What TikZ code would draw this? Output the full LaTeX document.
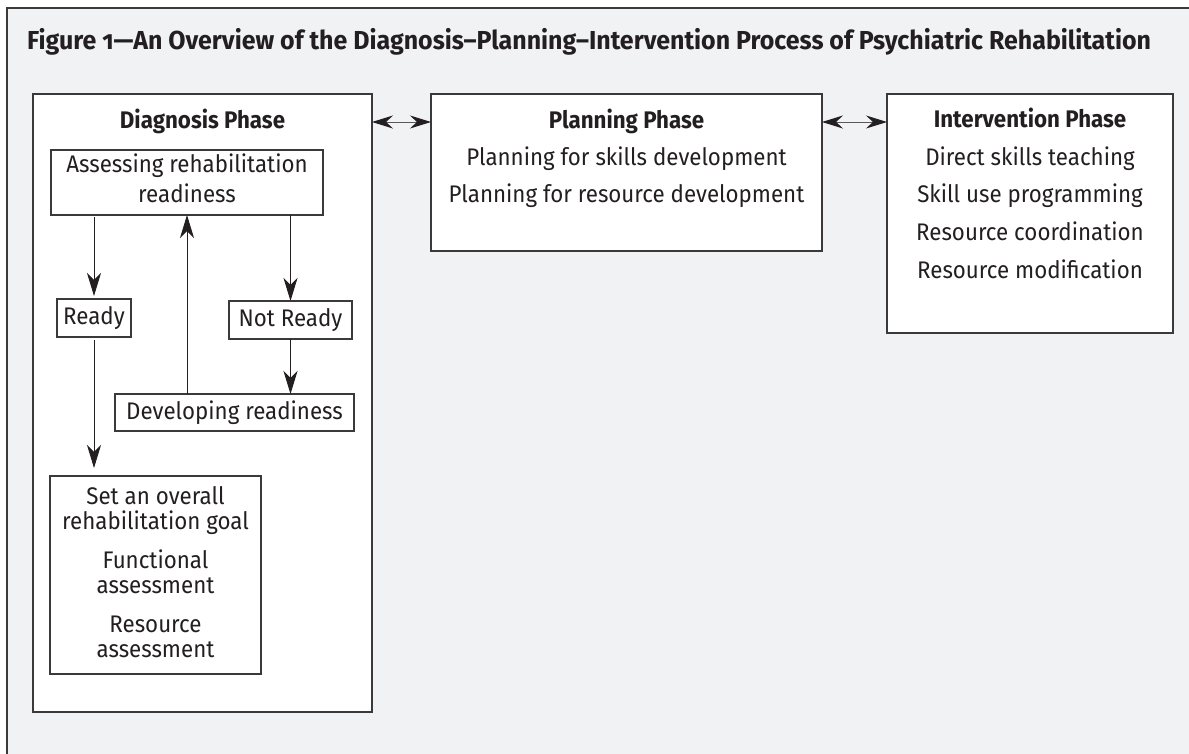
\documentclass[tikz,border=0pt]{standalone}
\usepackage{fontspec}
\setmainfont{Fira Sans}[Numbers=OldStyle, FakeStretch=0.93]
\newfontfamily\titlefont{Fira Sans}[Numbers=OldStyle, FakeStretch=0.96]
\usetikzlibrary{arrows.meta}
\definecolor{bg}{HTML}{F1F2F4}
\definecolor{ink}{HTML}{231F20}
\definecolor{edge}{HTML}{3A3A3A}
\begin{document}
\begin{tikzpicture}[x=1pt,y=-1pt,
  box/.style={draw=edge, fill=white, line width=1.2pt, inner sep=0pt, outer sep=0pt},
  lbl/.style={inner sep=0pt, anchor=base, text=ink, font=\fontsize{24}{28}\selectfont},
  head/.style={lbl, font=\fontsize{24}{28}\selectfont\bfseries},
  arr/.style={draw=ink, line width=0.9pt, -{Stealth[length=23pt,width=14pt,inset=7pt]}},
  dbl/.style={draw=ink!75, line width=0.9pt, {Stealth[length=21pt,width=13pt,inset=7pt,color=ink,fill=ink]}-{Stealth[length=21pt,width=13pt,inset=7pt,color=ink,fill=ink]}}
]
\useasboundingbox (0,0) rectangle (1189,754);
\fill[white] (0,0) rectangle (1189,754);
\fill[bg] (7,8) rectangle (1189,754);
\draw[edge, line width=1.5pt] (7,754) -- (7,8) -- (1189,8);

% title
\node[lbl, anchor=base west, font=\titlefont\fontsize{26}{30}\selectfont\bfseries] (title) at (27,50)
  {Figure 1—An Overview of the Diagnosis–Planning–Intervention Process of Psychiatric Rehabilitation};

% phase boxes
\node[box, minimum width=339pt, minimum height=618pt] (diag) at (202.5,403) {};
\node[box, minimum width=391pt, minimum height=157pt] (plan) at (626.5,172.5) {};
\node[box, minimum width=286pt, minimum height=239pt] (inter) at (1030,213.5) {};

% diagnosis content
\node[head] (dh) at (202.5,129) {Diagnosis Phase};
\node[box, minimum width=272pt, minimum height=65pt] (assess) at (187,182.5) {};
\node[lbl] (as1) at (187,173) {Assessing rehabilitation};
\node[lbl] (as2) at (187,203) {readiness};
\node[box, lbl, anchor=center, minimum width=74pt, minimum height=38pt] (ready) at (94,318) {Ready};
\node[box, lbl, anchor=center, minimum width=123pt, minimum height=38pt] (notready) at (290.5,320) {Not Ready};
\node[box, lbl, anchor=center, minimum width=239pt, minimum height=37pt] (dev) at (234.5,412.5) {Developing readiness};
\node[box, minimum width=211pt, minimum height=198pt] (goal) at (155.5,575) {};
\node[lbl] (g1) at (155.5,504) {Set an overall};
\node[lbl] (g2) at (155.5,529) {rehabilitation goal};
\node[lbl] (g3) at (155.5,568) {Functional};
\node[lbl] (g4) at (155.5,593) {assessment};
\node[lbl] (g5) at (155.5,632) {Resource};
\node[lbl] (g6) at (155.5,657) {assessment};

% planning content
\node[head] (ph) at (626.5,129) {Planning Phase};
\node[lbl] (p1) at (626.5,166) {Planning for skills development};
\node[lbl] (p2) at (626.5,203) {Planning for resource development};

% intervention content
\node[head] (ih) at (1030,128) {Intervention Phase};
\node[lbl] (i1) at (1030,166) {Direct skills teaching};
\node[lbl] (i2) at (1030,203) {Skill use programming};
\node[lbl] (i3) at (1030,241) {Resource coordination};
\node[lbl] (i4) at (1030,278) {Resource modification};

% connectors in diagnosis
\draw[arr, shorten <=2pt, shorten >=3pt] (ready.north |- assess.south) -- (ready.north);
\draw[arr] (notready.north |- assess.south) -- (notready.north);
\draw[arr] (assess.south |- dev.north) -- (assess.south);
\draw[arr] (notready.south) -- (notready.south |- dev.north);
\draw[arr, shorten <=3pt, shorten >=8pt] (ready.south) -- (ready.south |- goal.north);

% phase connectors
\path (diag.north east) ++(0,28) coordinate (dA);
\path (plan.north east) ++(0,28) coordinate (pA);
\draw[dbl] (dA) -- (dA -| plan.west);
\draw[dbl] (pA) -- (pA -| inter.west);
\end{tikzpicture}
\end{document}
